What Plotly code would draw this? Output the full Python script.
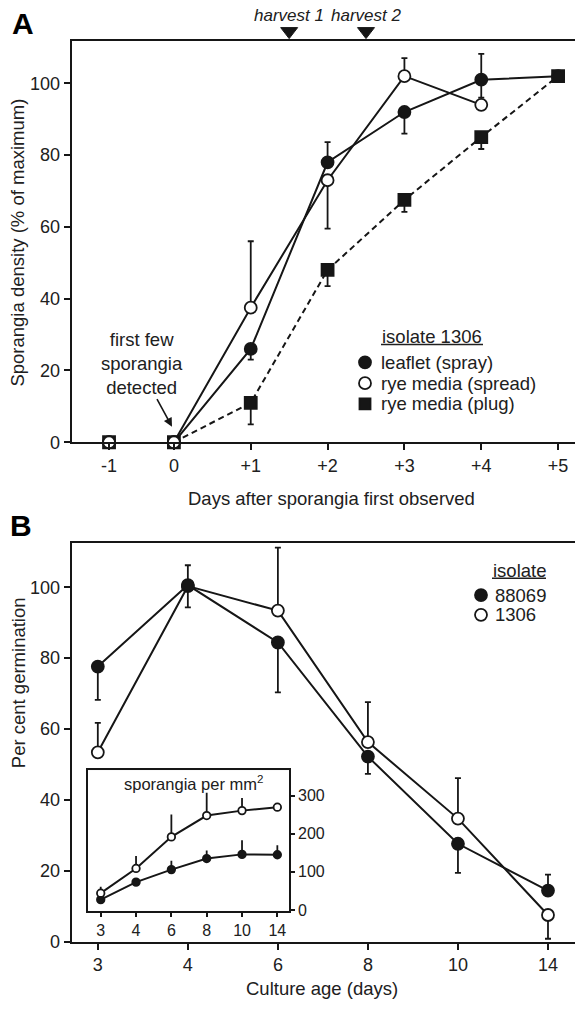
import plotly.graph_objects as go

# ---------------- data ----------------
# Panel A: sporangia density (% of maximum), isolate 1306
days = [-1, 0, 1, 2, 3, 4, 5]
day_labels = ["-1", "0", "+1", "+2", "+3", "+4", "+5"]
leaflet = [0, 0, 26, 78, 92, 101, 102]
leaflet_plus = [0, 0, 0, 5.6, 0, 7.2, 0]
leaflet_minus = [0, 0, 3, 0, 6, 5, 0]
spread = [0, 0, 37.5, 73, 102, 94, None]
spread_plus = [0, 0, 18.5, 0, 5, 0, 0]
spread_minus = [0, 0, 0, 13.5, 0, 0, 0]
plug = [0, 0, 11, 48, 67.5, 85, 102]
plug_plus = [0, 0, 0, 0, 0, 0, 0]
plug_minus = [0, 0, 6, 4.5, 3.3, 3.3, 0]
harvest_days = [1.5, 2.5]
harvest_labels = ["harvest 1", "harvest 2"]

# Panel B: per cent germination vs culture age
ages = ["3", "4", "6", "8", "10", "14"]
germ_88069 = [77.6, 100.6, 84.4, 52.2, 27.6, 14.4]
germ_88069_plus = [0, 5.6, 0, 0, 0, 4.5]
germ_88069_minus = [9.4, 6.3, 14.1, 4.9, 8.2, 0]
germ_1306 = [53.4, 100.3, 93.4, 56.3, 34.7, 7.5]
germ_1306_plus = [8.3, 0, 17.8, 11.3, 11.4, 0]
germ_1306_minus = [0, 0, 0, 0, 0, 6.7]

# Inset: sporangia per mm2
spor_1306 = [44, 109, 192, 248, 261, 270]
spor_1306_plus = [17, 33, 59, 60, 33, 0]
spor_88069 = [27, 73, 106, 135, 146, 145]
spor_88069_plus = [0, 0, 23, 21, 37, 25]

# ---------------- layout helpers ----------------
W, H = 575, 1009
BLACK = "#161616"
TXT = "#202020"
FONT = "Liberation Sans, Arial, sans-serif"


def PX(x):
    return x / W


def PY(y):
    return 1 - y / H


# the -1 day is drawn on a compressed segment of the axis
AXIS_BREAK_POS = -0.844
x_pos = [AXIS_BREAK_POS if d == -1 else d for d in days]

fig = go.Figure()


def err(plus, minus, width=3, thick=1.8):
    return dict(type="data", symmetric=False, array=plus, arrayminus=minus,
                color=BLACK, thickness=thick, width=width)


def series(xs, ys, plus, minus, symbol, fill, xa, ya, dash="solid", line_from=0,
           size=12, ebw=3, lw=2):
    fig.add_trace(go.Scatter(x=xs[line_from:], y=ys[line_from:], mode="lines",
                             line=dict(color=BLACK, width=lw, dash=dash),
                             xaxis=xa, yaxis=ya, showlegend=False, hoverinfo="skip"))
    fig.add_trace(go.Scatter(x=xs, y=ys, mode="markers",
                             marker=dict(symbol=symbol, size=size, color=fill,
                                         line=dict(color=BLACK, width=1.8)),
                             error_y=err(plus, minus, width=ebw),
                             xaxis=xa, yaxis=ya, showlegend=False, cliponaxis=False))


# Panel A
series(x_pos, plug, plug_plus, plug_minus, "square", BLACK, "x", "y", dash="6px,4px", line_from=1)
series(x_pos, leaflet, leaflet_plus, leaflet_minus, "circle", BLACK, "x", "y", line_from=1)
series(x_pos, spread, spread_plus, spread_minus, "circle", "white", "x", "y", line_from=1)

# Panel B
series(ages, germ_1306, germ_1306_plus, germ_1306_minus, "circle", "white", "x2", "y2")
series(ages, germ_88069, germ_88069_plus, germ_88069_minus, "circle", BLACK, "x2", "y2")

# Inset
series(ages, spor_88069, spor_88069_plus, [0] * 6, "circle", BLACK, "x3", "y3", size=7.5, ebw=0, lw=2)
series(ages, spor_1306, spor_1306_plus, [0] * 6, "circle", "white", "x3", "y3", size=7.5, ebw=0, lw=2)

axis_common = dict(showline=True, linewidth=2, linecolor=BLACK, ticks="outside",
                   tickcolor=BLACK, tickwidth=1.6, ticklen=6, showgrid=False,
                   zeroline=False, tickfont=dict(family=FONT, size=18, color=TXT))
inset_font = dict(family=FONT, size=16, color=TXT)

fig.update_layout(
    width=W, height=H, margin=dict(l=0, r=0, t=0, b=0),
    paper_bgcolor="white", plot_bgcolor="white",
    font=dict(family=FONT, color=TXT),
    xaxis=dict(axis_common, domain=[PX(71.7), 1], range=[-1.33, 5.22],
               tickvals=x_pos, ticktext=day_labels, mirror=True, anchor="y"),
    yaxis=dict(axis_common, domain=[PY(446.7), PY(41)], range=[0, 111.9],
               tickvals=[0, 20, 40, 60, 80, 100], anchor="x"),
    xaxis2=dict(axis_common, type="category", domain=[PX(71.7), 1], range=[-0.29, 5.30],
                mirror=True, anchor="y2"),
    yaxis2=dict(axis_common, domain=[PY(951), PY(548)], range=[0, 112.6],
                tickvals=[0, 20, 40, 60, 80, 100], anchor="x2"),
    xaxis3=dict(axis_common, type="category", domain=[PX(88), PX(289)], range=[-0.36, 5.33],
                mirror=True, anchor="y3", ticklen=4, linewidth=1.6, tickfont=inset_font),
    yaxis3=dict(axis_common, domain=[PY(920), PY(778)], range=[-2.5, 367],
                tickvals=[0, 100, 200, 300], side="right", mirror=True, anchor="x3",
                ticklen=4, linewidth=1.6, tickfont=inset_font),
)

shapes = [dict(type="rect", xref="x3 domain", yref="y3 domain", x0=0, x1=1, y0=0, y1=1,
               fillcolor="#e8e8e8", line=dict(width=0), layer="below")]

# harvest markers: downward triangles sitting on the top frame of panel A
for hd in harvest_days:
    shapes.append(dict(type="path", xref="x", yref="paper", xsizemode="pixel",
                       ysizemode="pixel", xanchor=hd, yanchor=PY(39),
                       path="M-8.5,11 L8.5,11 L0,0 Z", fillcolor=BLACK,
                       line=dict(color=BLACK, width=1)))


def key(kind, cx, cy, fill, r=6):
    shapes.append(dict(type=kind, xref="paper", yref="paper",
                       x0=PX(cx - r), x1=PX(cx + r), y0=PY(cy + r), y1=PY(cy - r),
                       fillcolor=fill, line=dict(color=BLACK, width=1.8)))


def underline(x0, x1, y):
    shapes.append(dict(type="line", xref="paper", yref="paper",
                       x0=PX(x0), x1=PX(x1), y0=PY(y), y1=PY(y),
                       line=dict(color=TXT, width=1.4)))


# legend A keys
key("circle", 365, 366, BLACK)
key("circle", 365, 387, "white")
key("rect", 365, 408, BLACK, r=5.5)
underline(381, 483, 348)
# legend B keys
key("circle", 481, 601, BLACK)
key("circle", 481, 621, "white")
underline(492, 546, 584)

annotations = []


def text(t, x, y, size=18.5, xanchor="center", yanchor="middle", angle=0, color=TXT):
    annotations.append(dict(text=t, x=PX(x), y=PY(y), xref="paper", yref="paper",
                            showarrow=False, xanchor=xanchor, yanchor=yanchor,
                            textangle=angle, font=dict(family=FONT, size=size, color=color)))


text("<b>A</b>", 23, 24, size=30, color="black")
text("<b>B</b>", 21, 531, size=30, color="black")

for hd, hl in zip(harvest_days, harvest_labels):
    annotations.append(dict(text="<i>" + hl + "</i>", x=hd, xref="x", y=PY(16), yref="paper",
                            xanchor="center", yanchor="middle",
                            showarrow=False, font=dict(family=FONT, size=17, color=TXT)))

text("Sporangia density (% of maximum)", 18, 245, angle=-90)
text("Days after sporangia first observed", 331, 503)
text("Per cent germination", 18, 690, angle=-90)
text("Culture age (days)", 322, 998)

text("first few<br>sporangia<br>detected", 142, 367)
annotations.append(dict(text=" ", x=PX(172), y=PY(431), xref="paper", yref="paper",
                        showarrow=True, ax=-18, ay=-33, arrowhead=2, arrowsize=1.1,
                        arrowwidth=1.6, arrowcolor=BLACK))

text("isolate 1306", 432, 340)
text("leaflet (spray)", 379, 366, xanchor="left")
text("rye media (spread)", 379, 387, xanchor="left")
text("rye media (plug)", 379, 408, xanchor="left")

text("isolate", 519, 576)
text("88069", 493, 601, xanchor="left")
text("1306", 493, 621, xanchor="left")

text("sporangia per mm<sup>2</sup>", 193, 791, size=16.5)

fig.update_layout(shapes=shapes, annotations=annotations)
fig.write_html("out.html")
